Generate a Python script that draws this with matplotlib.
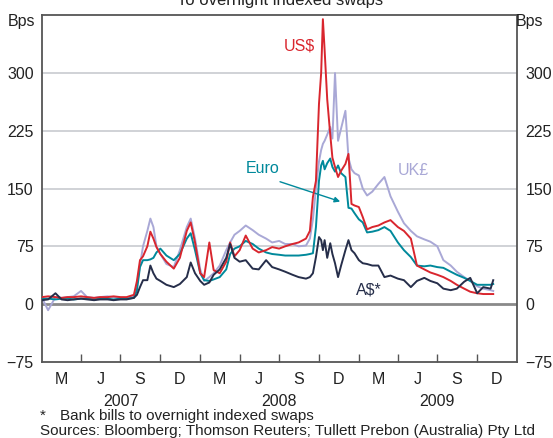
import pandas as pd
import matplotlib.pyplot as plt
import matplotlib.dates as mdates
import matplotlib.transforms as mtransforms

plt.rcParams['font.family'] = ['Liberation Sans', 'DejaVu Sans']

# dados (bps)
datas = [
    '2007-01-01', '2007-01-15', '2007-02-01', '2007-02-15', '2007-03-01', '2007-03-15',
    '2007-04-01', '2007-04-15', '2007-05-01', '2007-05-15', '2007-06-01', '2007-06-15',
    '2007-07-01', '2007-07-15', '2007-08-01', '2007-08-08', '2007-08-15', '2007-08-22',
    '2007-09-01', '2007-09-08', '2007-09-15', '2007-09-22', '2007-10-01', '2007-10-15',
    '2007-11-01', '2007-11-15', '2007-12-01', '2007-12-10', '2007-12-20', '2008-01-01',
    '2008-01-10', '2008-01-22', '2008-02-01', '2008-02-15', '2008-03-01', '2008-03-10',
    '2008-03-20', '2008-04-01', '2008-04-15', '2008-05-01', '2008-05-15', '2008-06-01',
    '2008-06-15', '2008-07-01', '2008-07-15', '2008-08-01', '2008-08-15', '2008-09-01',
    '2008-09-10', '2008-09-17', '2008-09-24', '2008-10-01', '2008-10-06', '2008-10-10',
    '2008-10-14', '2008-10-20', '2008-10-27', '2008-11-01', '2008-11-07', '2008-11-14',
    '2008-11-21', '2008-12-01', '2008-12-08', '2008-12-15', '2008-12-22', '2009-01-01',
    '2009-01-10', '2009-01-20', '2009-02-01', '2009-02-15', '2009-03-01', '2009-03-15',
    '2009-04-01', '2009-04-15', '2009-05-01', '2009-05-15', '2009-06-01', '2009-06-15',
    '2009-07-01', '2009-07-15', '2009-08-01', '2009-08-15', '2009-09-01', '2009-09-15',
    '2009-10-01', '2009-10-15', '2009-11-01', '2009-11-07',
]

uk = [8, -8, 9, 8, 9, 10, 17, 9, 8, 9, 10, 9,
      8, 8, 10, 25, 50, 75, 95, 111, 100, 75, 65, 52,
      48, 70, 100, 111, 85, 45, 30, 35, 40, 50, 70, 80,
      90, 95, 102, 96, 90, 85, 80, 82, 78, 78, 75, 76,
      85, 110, 150, 185, 200, 208, 212, 220, 230, 215, 300, 212,
      228, 251, 190, 175, 170, 167, 150, 141, 146, 156, 165, 140,
      120, 105, 95, 88, 84, 81, 75, 57, 50, 42, 35, 30,
      23, 20, 18, 17]

usd = [9, 10, 9, 8, 9, 9, 10, 9, 8, 9, 9, 10,
       9, 9, 12, 30, 57, 62, 75, 94, 85, 74, 65, 55,
       46, 60, 95, 106, 80, 40, 35, 80, 44, 40, 55, 80,
       62, 70, 89, 72, 67, 70, 74, 72, 75, 78, 80, 85,
       95, 139, 160, 260, 300, 370, 330, 266, 220, 190, 178, 165,
       173, 182, 195, 130, 128, 126, 113, 97, 100, 102, 106, 109,
       100, 95, 85, 50, 45, 41, 38, 35, 30, 25, 20, 16,
       14, 13, 13, 13]

euro = [7, 7, 6, 7, 7, 6, 7, 7, 6, 7, 7, 6,
        7, 7, 8, 18, 48, 57, 57, 58, 60, 67, 72, 63,
        57, 65, 85, 92, 70, 40, 31, 30, 32, 35, 45, 65,
        72, 75, 82, 78, 72, 67, 65, 64, 63, 63, 63, 64,
        65, 66, 100, 160, 180, 186, 175, 183, 189, 178, 172, 180,
        170, 165, 125, 124, 118, 110, 106, 93, 94, 96, 100, 95,
        80, 70, 61, 50, 49, 50, 48, 47, 42, 38, 34, 30,
        25, 25, 25, 26]

aud = [5, 6, 14, 6, 5, 6, 7, 6, 5, 6, 6, 5,
       6, 6, 8, 12, 22, 31, 31, 50, 40, 33, 30, 25,
       22, 26, 35, 54, 40, 30, 25, 28, 38, 45, 60, 78,
       60, 55, 57, 46, 45, 57, 48, 45, 42, 38, 35, 33,
       35, 40, 61, 87, 83, 70, 83, 60, 79, 65, 53, 35,
       50, 70, 83, 70, 66, 57, 53, 52, 50, 50, 35, 37,
       33, 31, 22, 30, 34, 30, 27, 20, 18, 20, 29, 34,
       14, 22, 20, 31]

meses = ['M', 'J', 'S', 'D'] * 3
anos = ['2007', '2008', '2009']

df = pd.DataFrame({'data': pd.to_datetime(datas), 'UK': uk, 'US': usd,
                   'Euro': euro, 'AUD': aud})

cor_uk = '#a9a8d6'
cor_us = '#d9262e'
cor_euro = '#00899b'
cor_aud = '#262e4a'

fig = plt.figure(figsize=(5.53, 4.38), dpi=100)
ax = fig.add_axes([0.076, 0.174, 0.859, 0.791])

for v in [75, 150, 225, 300]:
    ax.axhline(v, color='#c4c6cc', lw=1.1, zorder=1)
ax.axhline(0, color='#8a8a8a', lw=2.0, zorder=1)

ax.plot(df['data'], df['UK'], color=cor_uk, lw=1.4, zorder=2)
ax.plot(df['data'], df['Euro'], color=cor_euro, lw=1.4, zorder=3)
ax.plot(df['data'], df['US'], color=cor_us, lw=1.4, zorder=4)
ax.plot(df['data'], df['AUD'], color=cor_aud, lw=1.4, zorder=5)

ax.set_xlim(pd.Timestamp('2007-01-01'), pd.Timestamp('2010-01-01'))
ax.set_ylim(-75, 375)

# eixo y dos dois lados
ax.set_yticks([-75, 0, 75, 150, 225, 300])
ax.tick_params(axis='y', length=0, labelsize=11.5, pad=6, labelright=True,
               right=False, labelcolor='#222222')

# eixo x: ticks nos trimestres, letras no meio
inicios = pd.date_range('2007-04-01', '2009-10-01', freq='3MS')
ax.set_xticks(inicios)
ax.set_xticklabels([])
meios = pd.date_range('2007-01-01', '2009-10-01', freq='3MS') + pd.Timedelta(days=45)
ax.set_xticks(meios, minor=True)
ax.set_xticklabels(meses, minor=True)
ax.tick_params(axis='x', which='major', direction='in', length=6, width=1,
               color='#555555')
ax.tick_params(axis='x', which='minor', length=0, labelsize=11.5, pad=7,
               labelcolor='#222222')

trans = mtransforms.blended_transform_factory(ax.transData, ax.transAxes)
for a in anos:
    meio = pd.Timestamp(f'{a}-07-01')
    ax.text(meio, -0.115, a, transform=trans, ha='center', va='center',
            fontsize=11.5, color='#222222')

for s in ax.spines.values():
    s.set_color('#555555')
    s.set_linewidth(1.3)

# rotulos das series
ax.text(pd.Timestamp('2008-08-17'), 335, 'US$', color=cor_us, fontsize=11.5,
        ha='center', va='center')
ax.text(pd.Timestamp('2008-05-25'), 176, 'Euro', color=cor_euro, fontsize=11.5,
        ha='center', va='center')
ax.text(pd.Timestamp('2009-05-06'), 173, 'UK£', color=cor_uk, fontsize=11.5,
        ha='center', va='center')
ax.text(pd.Timestamp('2009-01-24'), 18, 'A$*', color=cor_aud, fontsize=11.5,
        ha='center', va='center')
ax.annotate('', xy=(mdates.date2num(pd.Timestamp('2008-11-25')), 132),
            xytext=(mdates.date2num(pd.Timestamp('2008-06-27')), 160),
            arrowprops=dict(arrowstyle='-|>', color=cor_euro, lw=1.0,
                            mutation_scale=8))

fig.text(0.063, 0.951, 'Bps', fontsize=11.5, ha='right', va='center', color='#222222')
fig.text(0.933, 0.951, 'Bps', fontsize=11.5, ha='left', va='center', color='#222222')
# titulo cortado no topo, como no original
fig.text(0.507, 1 - 5 / 438, 'To overnight indexed swaps', fontsize=12,
         ha='center', va='baseline', color='#222222')

fig.text(0.072, 1 - 416 / 438, '*', fontsize=11, ha='left', va='center', color='#222222')
fig.text(0.108, 1 - 416 / 438, 'Bank bills to overnight indexed swaps', fontsize=11,
         ha='left', va='center', color='#222222')
fig.text(0.072, 1 - 431 / 438,
         'Sources: Bloomberg; Thomson Reuters; Tullett Prebon (Australia) Pty Ltd',
         fontsize=11, ha='left', va='center', color='#222222')

fig.savefig('out.png', dpi=100)
